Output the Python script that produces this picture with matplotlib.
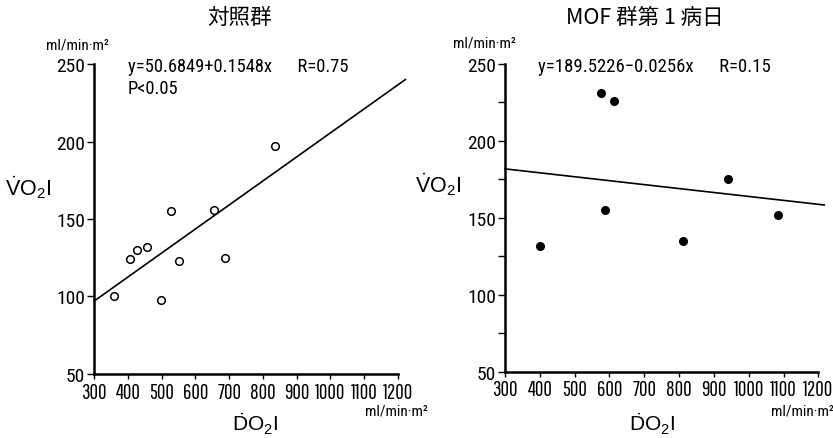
import matplotlib
matplotlib.use("Agg")
import matplotlib.pyplot as plt
from matplotlib import font_manager
import numpy as np

# ---- data ----
ctrl_x = [358, 407, 428, 457, 499, 527, 552, 655, 687, 835]
ctrl_y = [100, 124, 130, 132, 98, 155, 123, 156, 125, 197]
ctrl_a, ctrl_b = 50.6849, 0.1548

mof_x = [401, 577, 587, 613, 812, 940, 1084]
mof_y = [132, 231, 155, 226, 135, 175, 152]
mof_a, mof_b = 189.5226, -0.0256

x_ticks = [300, 400, 500, 600, 700, 800, 900, 1000, 1100, 1200]
y_ticks = [50, 100, 150, 200, 250]
titles = ["対照群", "MOF 群第 1 病日"]
eq_texts = ["y=50.6849+0.1548x      R=0.75\nP<0.05", "y=189.5226−0.0256x      R=0.15"]
unit = "ml/min·m²"

names = {f.name for f in font_manager.fontManager.ttflist}
def pick(cands, default="DejaVu Sans"):
    for c in cands:
        if c in names:
            return c
    return default

narrow = pick(["Roboto Condensed", "Barlow Condensed", "Archivo Narrow"])
xcands = [("Pathway Gothic One", 15), ("League Gothic", 15), ("Fira Sans Extra Condensed", 12),
          ("Saira Extra Condensed", 12.5), ("Antonio", 12), ("Oswald", 10.5)]
xfont, xsize = narrow, 11
for c, sz in xcands:
    if c in names:
        xfont, xsize = c, sz
        break
cjk = ["Noto Sans CJK JP", "DejaVu Sans"]

plt.rcParams["mathtext.fontset"] = "custom"
plt.rcParams["mathtext.rm"] = "Liberation Sans"
plt.rcParams["mathtext.it"] = "Liberation Sans:italic"

fig = plt.figure(figsize=(8.33, 4.39), dpi=100)
axL = fig.add_axes([0.1132, 0.1458, 0.3642, 0.7061])
axR = fig.add_axes([0.6063, 0.1510, 0.3761, 0.7009])

def style(ax, minor):
    ax.set_xlim(300, 1200)
    ax.set_ylim(50, 250)
    for s in ["top", "right"]:
        ax.spines[s].set_visible(False)
    for s in ["left", "bottom"]:
        ax.spines[s].set_linewidth(1.8)
    ax.set_xticks(x_ticks)
    ax.set_yticks(y_ticks)
    if minor:
        ax.set_yticks([75, 125, 175, 225], minor=True)
    ax.tick_params(axis="both", which="both", direction="out", width=1.0, color="black")
    ax.tick_params(axis="x", length=3.5, pad=2)
    ax.tick_params(axis="y", which="both", length=5, pad=1.5)
    for lab in ax.get_xticklabels():
        lab.set_fontfamily(xfont)
        lab.set_fontsize(xsize)
    for lab in ax.get_yticklabels():
        lab.set_fontfamily(narrow)
        lab.set_fontsize(14)

style(axL, False)
style(axR, True)

# control
xx = np.array([300, 1223])
axL.plot(xx, ctrl_a + ctrl_b * xx, color="black", lw=1.2, clip_on=False)
axL.scatter(ctrl_x, ctrl_y, s=30, facecolors="white", edgecolors="black", linewidths=1.1, zorder=3, clip_on=False)

# MOF
xx2 = np.array([300, 1217])
axR.plot(xx2, mof_a + mof_b * xx2, color="black", lw=1.2, clip_on=False)
axR.scatter(mof_x, mof_y, s=30, color="black", zorder=3, clip_on=False)

# titles
fig.text(240 / 833, 1 - 18 / 439, titles[0], ha="center", va="center", fontsize=15.5, family=cjk)
fig.text(645 / 833, 1 - 18 / 439, titles[1], ha="center", va="center", fontsize=15.5, family=cjk)

# equations
fig.text(128 / 833, 1 - 58 / 439, eq_texts[0], ha="left", va="top", fontsize=13.3, family=narrow, linespacing=1.3)
fig.text(538 / 833, 1 - 58 / 439, eq_texts[1], ha="left", va="top", fontsize=13.5, family=narrow)

# unit labels
for xu, yu in [(77, 45), (484, 43)]:
    fig.text(xu / 833, 1 - yu / 439, unit, ha="center", va="center", fontsize=11, family=narrow)
for xu, yu in [(396, 412), (802, 412)]:
    fig.text(xu / 833, 1 - yu / 439, unit, ha="center", va="center", fontsize=11, family=narrow)

# axis labels
vlab = r"$\dot{\mathrm{V}}\mathrm{O}_{2}\mathrm{I}$"
dlab = r"$\dot{\mathrm{D}}\mathrm{O}_{2}\mathrm{I}$"
fig.text(28 / 833, 1 - 188 / 439, vlab, ha="center", va="center", fontsize=15.5)
fig.text(438 / 833, 1 - 185 / 439, vlab, ha="center", va="center", fontsize=15.5)
fig.text(255 / 833, 1 - 424 / 439, dlab, ha="center", va="center", fontsize=15)
fig.text(652 / 833, 1 - 424 / 439, dlab, ha="center", va="center", fontsize=15)

fig.savefig("out.png", dpi=100)
